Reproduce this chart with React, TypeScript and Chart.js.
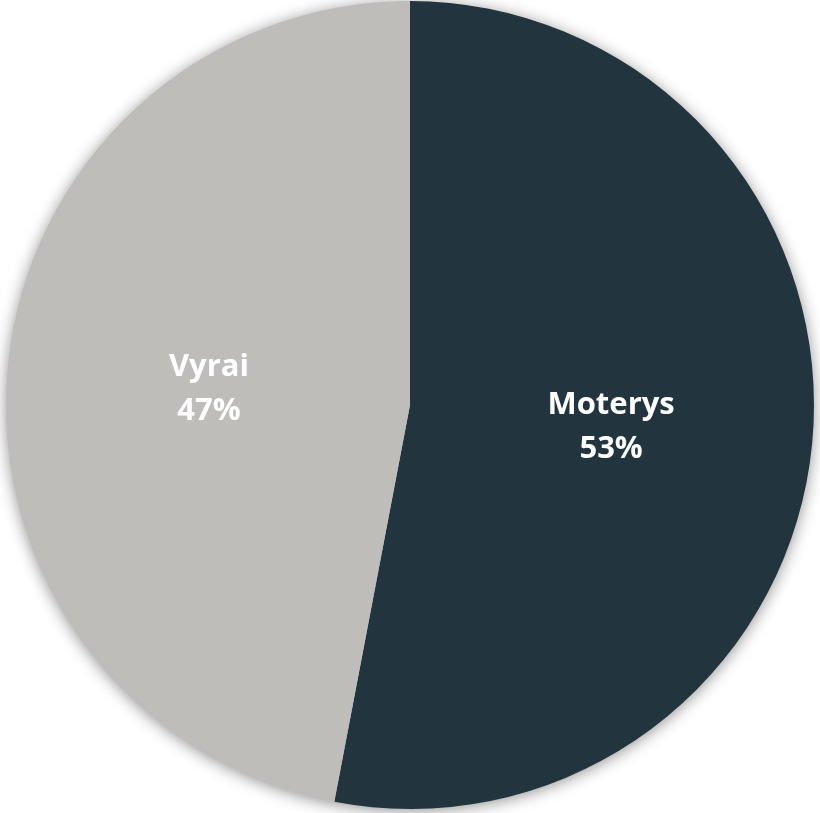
import React, { useEffect, useRef } from "react";
import { Chart, registerables } from "chart.js";

Chart.register(...registerables);

const categories = ["Moterys", "Vyrai"];
const values = [53, 47];
const percentLabels = ["53%", "47%"];
const colors = ["#22353f", "#bfbdba"];

const shadowPlugin = {
  id: "pieShadow",
  beforeDatasetsDraw(chart: any) {
    const meta = chart.getDatasetMeta(0);
    const arc = meta.data[0];
    if (!arc) return;
    const { x, y, outerRadius } = arc.getProps(["x", "y", "outerRadius"], true);
    const ctx = chart.ctx;
    ctx.save();
    ctx.shadowColor = "rgba(0,0,0,0.45)";
    ctx.shadowBlur = 16;
    ctx.shadowOffsetX = 0;
    ctx.shadowOffsetY = 2;
    ctx.fillStyle = "#bfbdba";
    ctx.beginPath();
    ctx.arc(x, y, outerRadius - 0.5, 0, Math.PI * 2);
    ctx.fill();
    ctx.restore();
  },
};

const labelPlugin = {
  id: "sliceLabels",
  afterDatasetsDraw(chart: any) {
    const meta = chart.getDatasetMeta(0);
    const ctx = chart.ctx;
    ctx.save();
    ctx.fillStyle = "#ffffff";
    ctx.textAlign = "center";
    ctx.textBaseline = "middle";
    ctx.font = "bold 31px 'Open Sans', sans-serif";
    meta.data.forEach((arc: any, i: number) => {
      const p = arc.tooltipPosition(true);
      ctx.fillText(categories[i], p.x, p.y - 19);
      ctx.fillText(percentLabels[i], p.x, p.y + 25);
    });
    ctx.restore();
  },
};

export default function App() {
  const ref = useRef<HTMLCanvasElement>(null);
  useEffect(() => {
    if (!ref.current) return;
    const chart = new Chart(ref.current, {
      type: "pie",
      data: {
        labels: categories,
        datasets: [
          {
            data: values,
            backgroundColor: colors,
            borderWidth: 0,
            hoverOffset: 0,
          },
        ],
      },
      options: {
        animation: false,
        responsive: false,
        maintainAspectRatio: false,
        layout: { padding: { top: 1, bottom: 4, left: 0, right: 0 } },
        plugins: {
          legend: { display: false },
          tooltip: { enabled: false },
        },
      },
      plugins: [shadowPlugin, labelPlugin],
    });
    return () => chart.destroy();
  }, []);
  return (
    <div style={{ position: "fixed", left: 0, top: 0, width: 820, height: 813, background: "#ffffff" }}>
      <canvas ref={ref} width={820} height={813} style={{ width: 820, height: 813, display: "block" }} />
    </div>
  );
}
